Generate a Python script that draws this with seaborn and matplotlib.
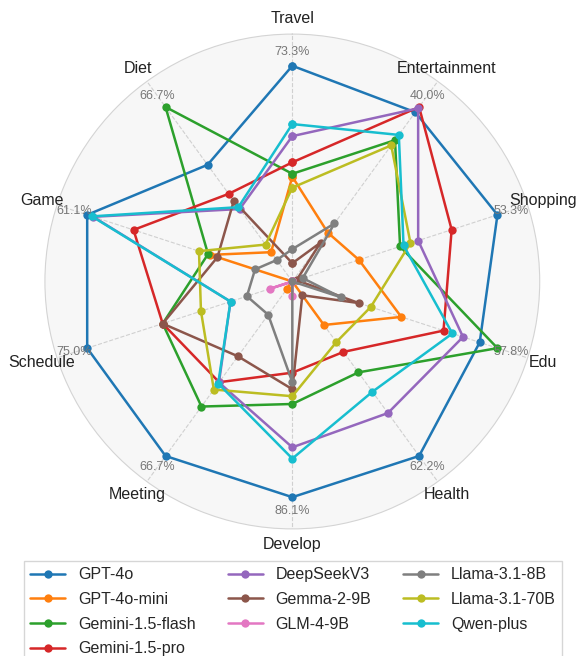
import numpy as np
import pandas as pd
import matplotlib
matplotlib.use("Agg")
import matplotlib.pyplot as plt
import seaborn as sns

categories = ["Travel", "Entertainment", "Shopping", "Edu", "Health",
              "Develop", "Meeting", "Schedule", "Game", "Diet"]
axis_max = [73.3, 40.0, 53.3, 57.8, 62.2, 86.1, 66.7, 75.0, 61.1, 66.7]

models = ["GPT-4o", "GPT-4o-mini", "Gemini-1.5-flash", "Gemini-1.5-pro",
          "DeepSeekV3", "Gemma-2-9B", "GLM-4-9B", "Llama-3.1-8B",
          "Llama-3.1-70B", "Qwen-plus"]

gpt4o = [73.3, 38.8, 53.3, 52.8, 62.2, 86.1, 66.7, 75.0, 61.1, 44.6]
gpt4o_mini = [35.6, 11.2, 17.3, 30.7, 15.5, 0.0, 3.0, 0.0, 24.4, 11.2]
gemini_flash = [36.6, 32.4, 28.0, 57.8, 32.4, 48.9, 47.8, 47.4, 25.1, 66.7]
gemini_pro = [40.5, 40.0, 41.4, 42.6, 25.1, 36.4, 38.5, 47.4, 47.3, 33.5]
deepseek = [49.4, 39.7, 32.7, 48.1, 46.9, 66.2, 38.6, 22.6, 59.3, 27.7]
gemma = [6.2, 8.9, 1.1, 18.7, 4.9, 43.0, 28.6, 47.4, 22.3, 30.8]
glm = [0.0, 0.0, 0.0, 0.0, 0.0, 5.7, 0.0, 8.3, 0.0, 0.0]
llama8b = [11.0, 13.3, 2.7, 13.6, 0.0, 40.2, 12.7, 16.6, 11.1, 8.2]
llama70b = [31.9, 31.2, 30.7, 22.1, 21.6, 45.8, 41.3, 33.4, 27.8, 14.1]
qwen = [53.5, 33.6, 28.9, 45.1, 39.3, 70.7, 39.0, 22.6, 59.7, 28.4]

scores = [gpt4o, gpt4o_mini, gemini_flash, gemini_pro, deepseek,
          gemma, glm, llama8b, llama70b, qwen]

sns.set_theme(style="whitegrid")
plt.rcParams["font.family"] = ["Liberation Sans", "DejaVu Sans"]

n = len(categories)
angles = np.linspace(0, 2 * np.pi, n, endpoint=False)

# long-form table, each polygon closed by repeating the first axis at 2*pi
rows = []
for name, vals in zip(models, scores):
    norm = np.array(vals) / np.array(axis_max)
    for k in range(n + 1):
        rows.append({"model": name, "theta": angles[k] if k < n else 2 * np.pi,
                     "r": norm[k % n]})
df = pd.DataFrame(rows)

palette = sns.color_palette("tab10", len(models))

fig = plt.figure(figsize=(5.76, 6.56), dpi=100)
ax = fig.add_axes([0.078, 0.1936, 0.859, 0.7546], projection="polar")
ax.set_theta_offset(np.pi / 2)
ax.set_theta_direction(-1)
ax.set_facecolor("#f7f7f7")

sns.lineplot(data=df, x="theta", y="r", hue="model", hue_order=models,
             palette=palette, sort=False, estimator=None, units="model",
             marker="o", markersize=6, markeredgewidth=0, linewidth=1.8,
             ax=ax, legend=False)

ax.set_ylim(0, 1.147)
ax.set_yticks([])
ax.set_xticks(angles)
ax.set_xticklabels([])
ax.xaxis.grid(True, linestyle="--", color="#d0d0d0", linewidth=0.8)
ax.yaxis.grid(False)
ax.spines["polar"].set_color("#d4d4d4")
ax.spines["polar"].set_linewidth(0.8)
ax.set_xlabel("")
ax.set_ylabel("")

for a, cat, mx in zip(angles, categories, axis_max):
    ax.text(a, 1.22, cat, ha="center", va="center", fontsize=11.5,
            color="#222222", clip_on=False)
    ax.text(a, 1.065, f"{mx:.1f}%", ha="center", va="center", fontsize=9,
            color="#777777", clip_on=False)

handles = [plt.Line2D([], [], color=c, marker="o", markersize=6,
                      markeredgewidth=0, linewidth=1.8) for c in palette]
fig.legend(handles, models, loc="upper center", ncol=3,
           bbox_to_anchor=(293 / 576, 1 - 561 / 656), fontsize=11.5,
           frameon=True, edgecolor="#cccccc", fancybox=False,
           borderaxespad=0, labelspacing=0.6, handlelength=2.2,
           columnspacing=2.0)

fig.savefig("out.png", dpi=100)
